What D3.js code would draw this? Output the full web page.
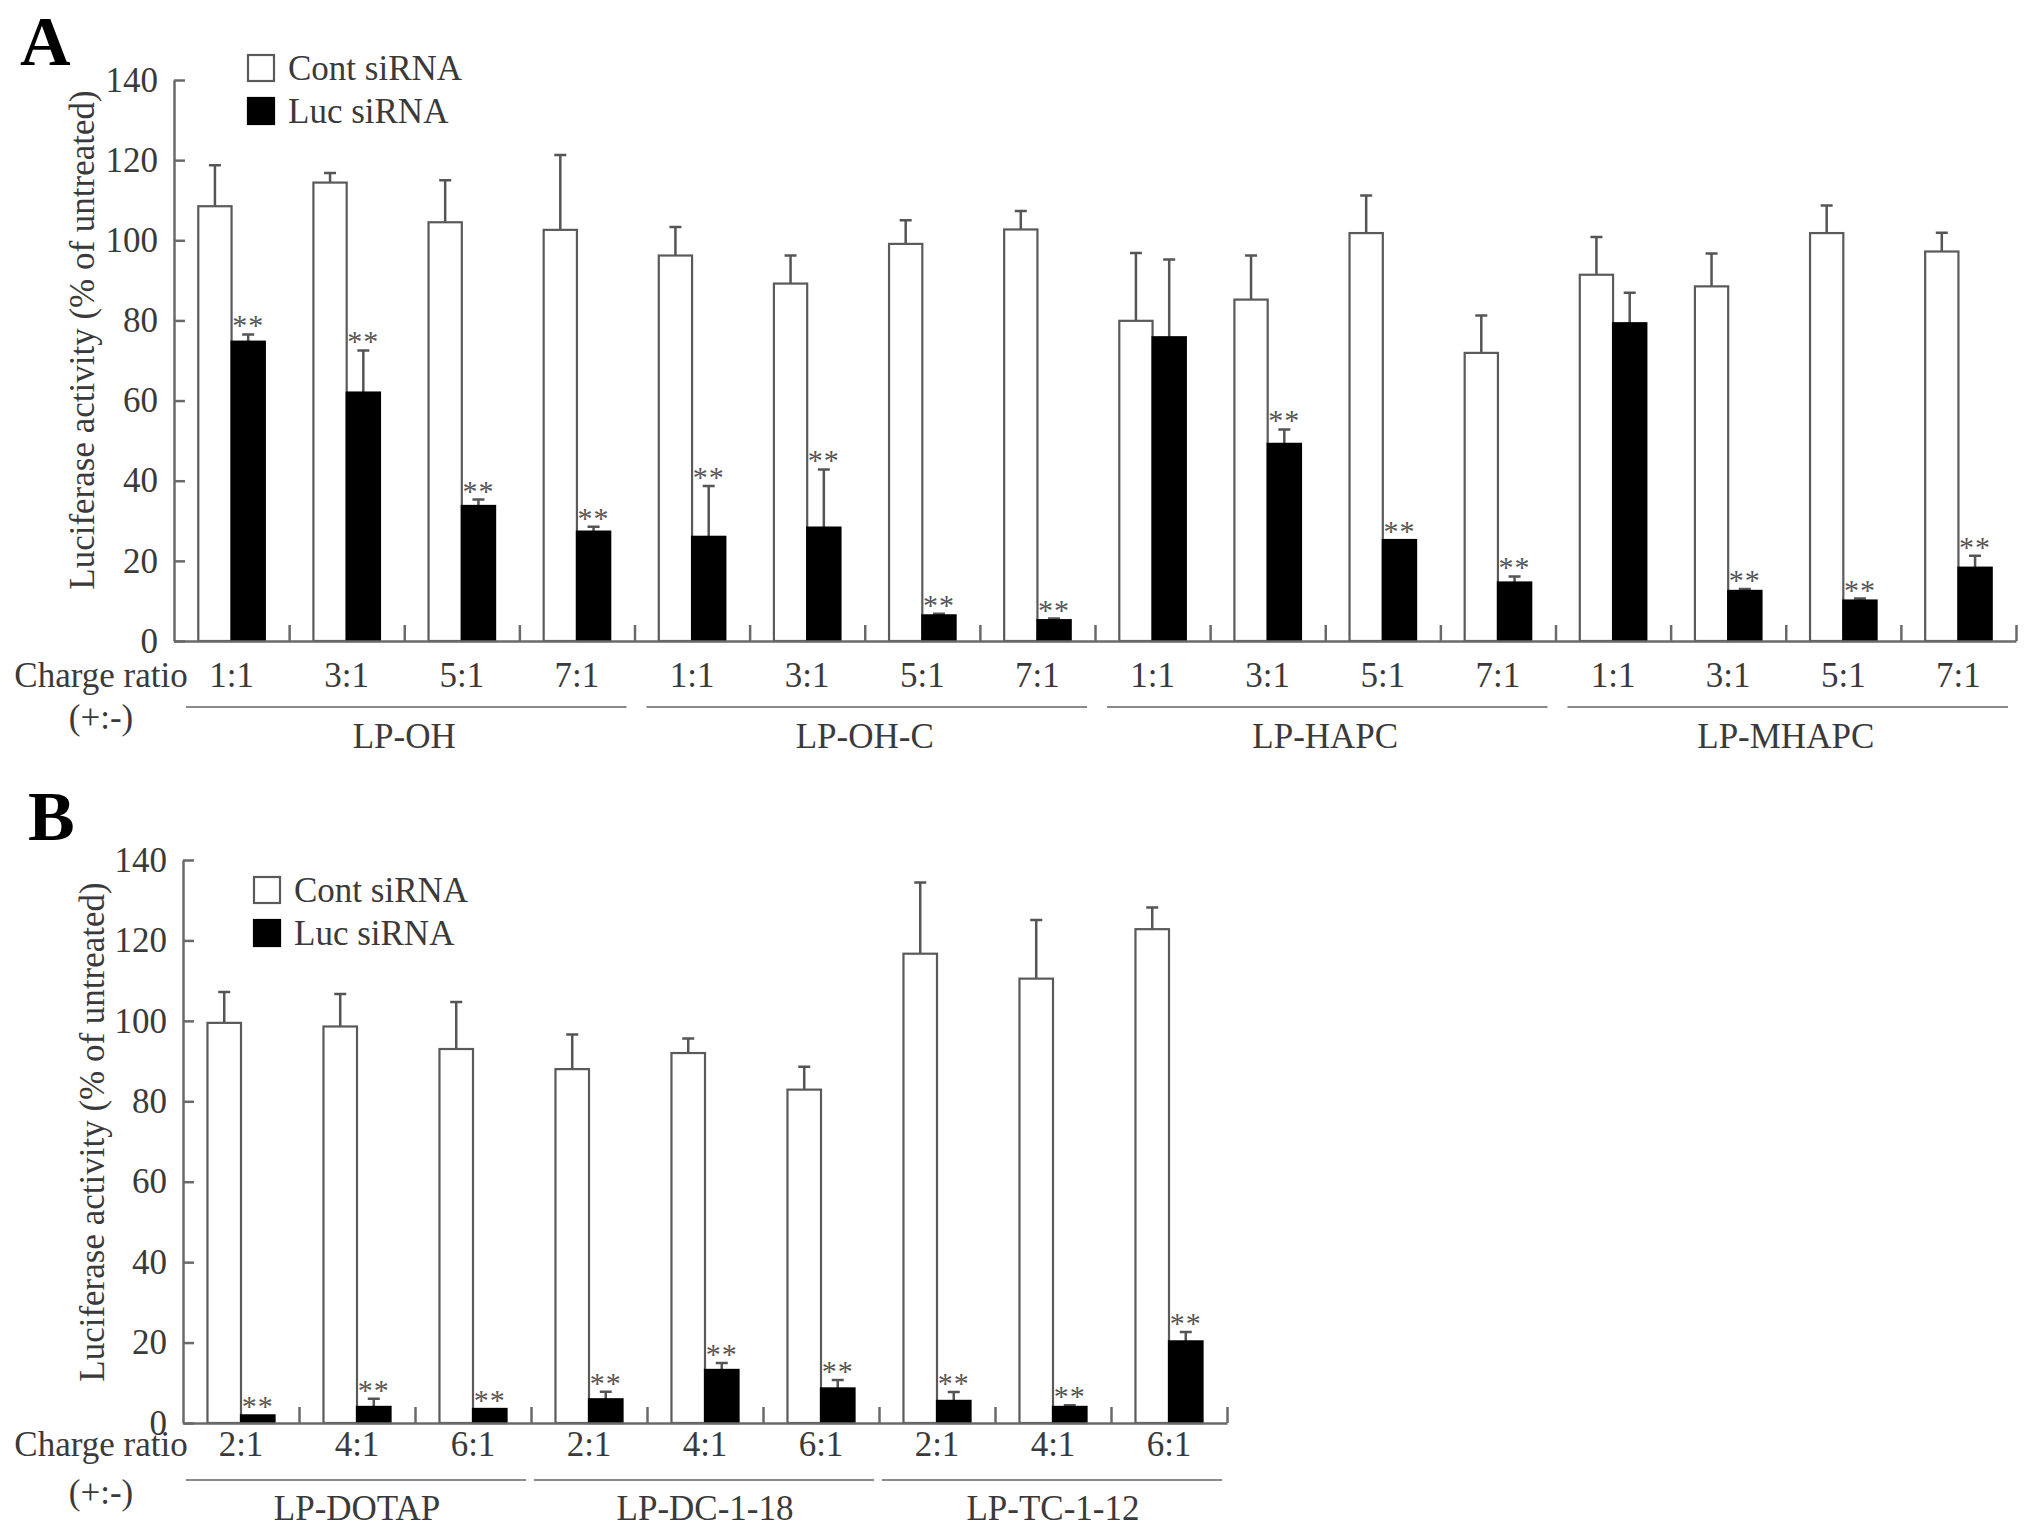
<!DOCTYPE html>
<html>
<head>
<meta charset="utf-8">
<script src="https://cdn.jsdelivr.net/npm/d3@7"></script>
<style>
  body { margin: 0; background: #fff; }
  text { font-family: "Liberation Serif", "Times New Roman", serif; fill: #3a3a3a; }
  .axis path, .axis line { stroke: #6a6a6a; stroke-width: 2.5; }
  .axis text { font-size: 35px; fill: #3a3a3a; }
</style>
</head>
<body>
<div class="canvas"></div>
<script>
var pageWidth = 2031, pageHeight = 1533;

// ---- panel A data ----
var groupsA = ['LP-OH', 'LP-OH-C', 'LP-HAPC', 'LP-MHAPC'];
var ratiosA = ['1:1', '3:1', '5:1', '7:1'];
var contA    = [108.5, 114.4, 104.5, 102.6,  96.2, 89.2, 99.1, 102.7,  79.9, 85.2, 101.8, 71.9,  91.4, 88.5, 101.8, 97.2];
var contErrA = [ 10.2,   2.4,  10.5,  18.7,   7.1,  7.0,  5.9,   4.6,  16.9, 11.0,   9.4,  9.3,   9.4,  8.2,   6.9,  4.7];
var lucA     = [ 74.7,  62.0,  33.7,  27.3,  26.0, 28.3,  6.4,   5.2,  75.8, 49.2,  25.2, 14.6,  79.3, 12.5,  10.1, 18.3];
var lucErrA  = [  1.8,  10.5,   1.6,   1.2,  12.7, 14.5,  0.4,   0.4,  19.4,  3.6,   0.0,  1.5,   7.6,  0.5,   0.5,  3.0];
var sigA     = [1, 1, 1, 1,  1, 1, 1, 1,  0, 1, 1, 1,  0, 1, 1, 1];

// ---- panel B data ----
var groupsB = ['LP-DOTAP', 'LP-DC-1-18', 'LP-TC-1-12'];
var ratiosB = ['2:1', '4:1', '6:1'];
var contB    = [99.5, 98.6, 93.0,  88.0, 92.0, 82.9,  116.7, 110.5, 122.8];
var contErrB = [ 7.7,  8.1, 11.7,   8.6,  3.6,  5.7,   17.7,  14.6,   5.4];
var lucB     = [ 1.9,  4.0,  3.5,   5.9, 13.2,  8.6,    5.5,   4.0,  20.3];
var lucErrB  = [ 0.0,  2.0,  0.0,   1.9,  1.7,  2.1,    2.2,   0.4,   2.3];
var sigB     = [1, 1, 1,  1, 1, 1,  1, 1, 1];

var series = ['Cont siRNA', 'Luc siRNA'];
var yTicks = [0, 20, 40, 60, 80, 100, 120, 140];
var yTitle = 'Luciferase activity (% of untreated)';

var svg = d3.select('.canvas')
    .append('svg')
    .attr('width', pageWidth)
    .attr('height', pageHeight)
    .style('background', '#fff');

drawPanel({
    letter: 'A', letterX: 20, letterY: 65,
    x0: 174, x1: 2016, yTop: 80, yBottom: 641,
    groups: groupsA, ratios: ratiosA,
    cont: contA, contErr: contErrA, luc: lucA, lucErr: lucErrA, sig: sigA,
    titleX: 82, titleY: 340,
    legendX: 248, legendY: 55,
    ratioY: 687, lineY: 707, lineIn: [12, 8], groupY: 748, parenY: 729
});

drawPanel({
    letter: 'B', letterX: 28, letterY: 840,
    x0: 183, x1: 1227, yTop: 860, yBottom: 1423,
    groups: groupsB, ratios: ratiosB,
    cont: contB, contErr: contErrB, luc: lucB, lucErr: lucErrB, sig: sigB,
    titleX: 92, titleY: 1132,
    legendX: 254, legendY: 877,
    ratioY: 1456, lineY: 1480, lineIn: [3, 5], groupY: 1520, parenY: 1504
});

function drawPanel(p) {
    var n = p.cont.length;
    var perGroup = p.ratios.length;
    var idx = d3.range(n);

    var x = d3.scaleBand().domain(idx).range([p.x0, p.x1]).padding(0);
    var xSub = d3.scaleBand().domain(series).range([0, x.bandwidth()]).paddingInner(0).paddingOuter(0.73);
    var xEdge = d3.scaleLinear().domain([0, n]).range([p.x0, p.x1]);
    var y = d3.scaleLinear().domain([0, 140]).range([p.yBottom, p.yTop]);

    var g = svg.append('g');

    // panel letter
    g.append('text')
        .attr('x', p.letterX).attr('y', p.letterY)
        .style('font-size', '70px').style('font-weight', 'bold').style('fill', '#000')
        .text(p.letter);

    // bars
    var rows = idx.map(function(i) {
        return [
            {i: i, s: series[0], v: p.cont[i], e: p.contErr[i]},
            {i: i, s: series[1], v: p.luc[i], e: p.lucErr[i]}
        ];
    });
    var cells = g.selectAll('.cell').data(rows).enter().append('g')
        .attr('class', 'cell')
        .attr('transform', function(d, i) { return 'translate(' + x(i) + ',0)'; });

    // error bars (upper only)
    cells.selectAll('.err').data(function(d) { return d.filter(function(b) { return b.e > 0; }); })
        .enter().append('path')
        .attr('class', 'err')
        .attr('d', function(b) {
            var cx = xSub(b.s) + xSub.bandwidth() / 2;
            return 'M' + cx + ',' + y(b.v) + 'V' + y(b.v + b.e) + 'M' + (cx - 6) + ',' + y(b.v + b.e) + 'H' + (cx + 6);
        })
        .style('stroke', '#555').style('stroke-width', 2.5).style('fill', 'none');

    cells.selectAll('.bar').data(function(d) { return d; })
        .enter().append('rect')
        .attr('class', 'bar')
        .attr('x', function(b) { return xSub(b.s); })
        .attr('width', xSub.bandwidth())
        .attr('y', function(b) { return y(b.v); })
        .attr('height', function(b) { return y(0) - y(b.v); })
        .style('fill', function(b) { return b.s === series[0] ? '#fff' : '#000'; })
        .style('stroke', function(b) { return b.s === series[0] ? '#5a5a5a' : '#000'; })
        .style('stroke-width', 2.2);

    // significance marks
    cells.filter(function(d, i) { return p.sig[i]; })
        .append('text')
        .attr('x', xSub(series[1]) + xSub.bandwidth() / 2)
        .attr('y', function(d) { return y(d[1].v + d[1].e) + 1; })
        .attr('text-anchor', 'middle')
        .style('font-size', '30px')
        .style('letter-spacing', '1px')
        .style('fill', '#555')
        .text('**');

    // y axis (ticks point inward)
    g.append('g')
        .attr('class', 'axis')
        .attr('transform', 'translate(' + p.x0 + ',0)')
        .call(d3.axisLeft(y).tickValues(yTicks).tickSize(-11).tickSizeOuter(0).tickPadding(16));

    // x axis with inward ticks at group edges
    g.append('g')
        .attr('class', 'axis')
        .attr('transform', 'translate(0,' + p.yBottom + ')')
        .call(d3.axisBottom(xEdge).tickValues(d3.range(1, n + 1)).tickSize(-16).tickSizeOuter(0).tickFormat(''));

    // charge ratio labels
    g.selectAll('.ratio').data(idx).enter().append('text')
        .attr('x', function(i) { return x(i) + x.bandwidth() / 2; })
        .attr('y', p.ratioY)
        .attr('text-anchor', 'middle')
        .style('font-size', '35px')
        .text(function(i) { return p.ratios[i % perGroup]; });

    g.append('text').attr('x', 101).attr('y', p.ratioY).attr('text-anchor', 'middle')
        .style('font-size', '35px').text('Charge ratio');
    g.append('text').attr('x', 101).attr('y', p.parenY).attr('text-anchor', 'middle')
        .style('font-size', '35px').text('(+:-)');

    // group lines and names
    p.groups.forEach(function(name, k) {
        var a = xEdge(k * perGroup), b = xEdge((k + 1) * perGroup);
        g.append('line')
            .attr('x1', a + p.lineIn[0]).attr('x2', b - p.lineIn[1])
            .attr('y1', p.lineY).attr('y2', p.lineY)
            .style('stroke', '#8a8a8a').style('stroke-width', 2);
        g.append('text')
            .attr('x', (a + b) / 2).attr('y', p.groupY)
            .attr('text-anchor', 'middle')
            .style('font-size', '35px')
            .text(name);
    });

    // y title
    g.append('text')
        .attr('transform', 'translate(' + p.titleX + ',' + p.titleY + ') rotate(-90)')
        .attr('text-anchor', 'middle')
        .attr('dy', '0.35em')
        .style('font-size', '35px')
        .text(yTitle);

    // legend
    var legend = g.append('g').attr('transform', 'translate(' + p.legendX + ',' + p.legendY + ')');
    series.forEach(function(s, k) {
        legend.append('rect')
            .attr('x', 0).attr('y', k * 43)
            .attr('width', 26).attr('height', 26)
            .style('fill', k === 0 ? '#fff' : '#000')
            .style('stroke', k === 0 ? '#5a5a5a' : '#000')
            .style('stroke-width', 2.2);
        legend.append('text')
            .attr('x', 40).attr('y', k * 43 + 25)
            .style('font-size', '35px')
            .text(s);
    });
}
</script>
</body>
</html>
